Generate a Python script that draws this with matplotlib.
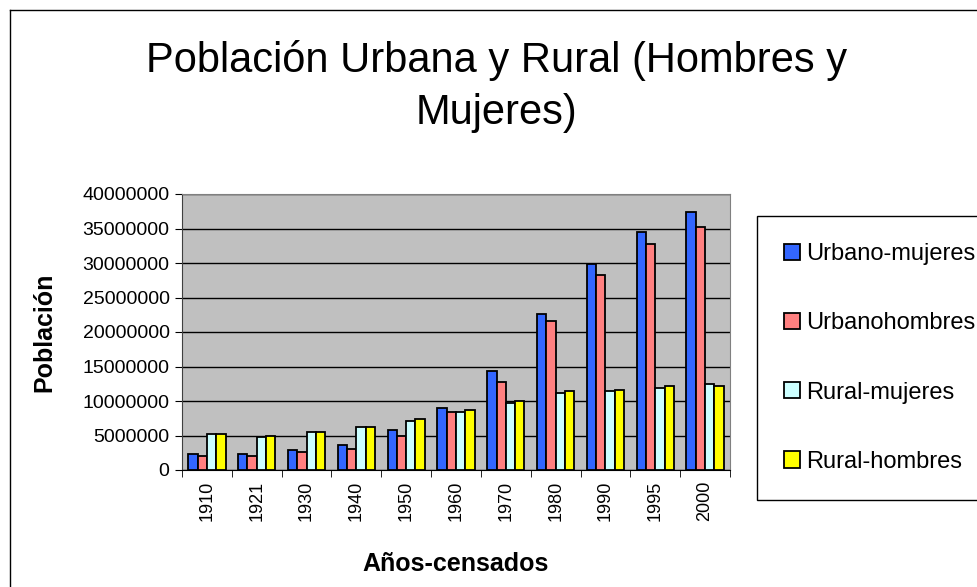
import numpy as np
import matplotlib
matplotlib.use('Agg')
import matplotlib.pyplot as plt
from matplotlib.lines import Line2D
from matplotlib.ticker import FixedLocator

plt.rcParams['font.family'] = ['Liberation Sans', 'DejaVu Sans']

# Datos
anios = ['1910', '1921', '1930', '1940', '1950', '1960', '1970', '1980', '1990', '1995', '2000']
urbano_mujeres = [2320000, 2300000, 2850000, 3620000, 5800000, 8980000, 14350000, 22600000, 29850000, 34450000, 37350000]
urbano_hombres = [2030000, 2000000, 2560000, 3090000, 4970000, 8450000, 12750000, 21550000, 28200000, 32800000, 35170000]
rural_mujeres = [5200000, 4730000, 5500000, 6280000, 7150000, 8450000, 9760000, 11100000, 11400000, 11930000, 12460000]
rural_hombres = [5200000, 4970000, 5500000, 6280000, 7390000, 8700000, 10050000, 11400000, 11640000, 12170000, 12170000]

series = [urbano_mujeres, urbano_hombres, rural_mujeres, rural_hombres]
nombres = ['Urbano-mujeres', 'Urbanohombres', 'Rural-mujeres', 'Rural-hombres']
colores = ['#3366FF', '#FF8080', '#CCFFFF', '#FFFF00']

W, H = 977, 587
fig = plt.figure(figsize=(W / 100, H / 100), dpi=100)

# Marco exterior del gráfico
fig.add_artist(Line2D([10 / W, 1], [1 - 10 / H, 1 - 10 / H], color='black', lw=1))
fig.add_artist(Line2D([10 / W, 10 / W], [0, 1 - 10 / H], color='black', lw=1))

ax = fig.add_axes([182 / W, 117 / H, 548 / W, 276 / H])
ax.set_facecolor('#C0C0C0')

x = np.arange(len(anios))
ancho = 0.187
for i, (vals, nombre, col) in enumerate(zip(series, nombres, colores)):
    ax.bar(x + (i - 1.5) * ancho, vals, width=ancho, color=col, edgecolor='black',
           linewidth=1.3, label=nombre, zorder=3)

ax.set_xlim(-0.5, len(anios) - 0.5)
ax.set_ylim(0, 40000000)
ax.set_yticks(np.arange(0, 40000001, 5000000))
ax.set_yticklabels([str(v) for v in range(0, 40000001, 5000000)], fontsize=14)
ax.yaxis.grid(True, color='black', lw=1, zorder=1)
ax.set_axisbelow(True)

ax.set_xticks(x)
ax.set_xticklabels(anios, rotation=90, fontsize=13)
ax.tick_params(axis='x', which='major', length=0, pad=8)
ax.xaxis.set_minor_locator(FixedLocator(np.arange(-0.5, len(anios), 1)))
ax.tick_params(axis='x', which='minor', length=5, direction='out', color='black')
ax.tick_params(axis='y', length=5, direction='out', color='black', pad=4)

ax.spines['top'].set_color('#808080')
ax.spines['right'].set_color('#808080')
ax.spines['left'].set_color('#404040')
ax.spines['bottom'].set_color('black')

ax.set_xlabel('Años-censados', fontsize=18, fontweight='bold', labelpad=22)
ax.set_ylabel('Población', fontsize=18, fontweight='bold', labelpad=19)

fig.text(497 / W, 1 - 40 / H, 'Población Urbana y Rural (Hombres y\nMujeres)',
         ha='center', va='top', fontsize=30, linespacing=1.39)

leg = fig.legend(loc='upper left', bbox_to_anchor=(757 / W, 1 - 216 / H), fontsize=17,
                 frameon=True, fancybox=False, edgecolor='black', labelspacing=2.0,
                 handlelength=0.68, handleheight=0.68, handletextpad=0.25,
                 borderpad=1.15, borderaxespad=0, framealpha=1)
leg.get_frame().set_linewidth(1)

fig.savefig('out.png', dpi=100)
